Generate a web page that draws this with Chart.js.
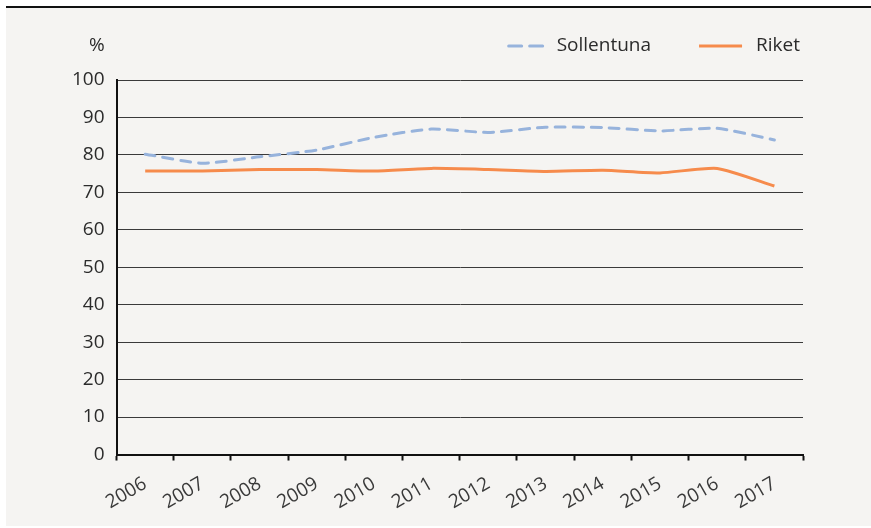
<!DOCTYPE html>
<html>
<head>
<meta charset="utf-8">
<script src="https://cdn.jsdelivr.net/npm/chart.js@4"></script>
<style>
  html, body { margin: 0; padding: 0; background: #ffffff; }
  #box {
    position: absolute; left: 6px; top: 6px; width: 865px; height: 518px;
    border-top: 2px solid #111; background: #f5f4f2;
  }
  #box canvas { display: block; }
</style>
</head>
<body>
<div id="box"><canvas id="chart" width="865" height="518"></canvas></div>
<script>
// years on the x axis
var years = ["2006", "2007", "2008", "2009", "2010", "2011", "2012", "2013", "2014", "2015", "2016", "2017"];
// share in %
var sollentuna = [80.2, 77.8, 79.5, 81.3, 84.7, 86.9, 86.0, 87.4, 87.3, 86.4, 87.1, 84.0];
var riket = [75.7, 75.7, 76.1, 76.1, 75.7, 76.4, 76.1, 75.6, 75.9, 75.2, 76.4, 71.7];
var yTicks = [0, 10, 20, 30, 40, 50, 60, 70, 80, 90, 100];
var unitLabel = "%";

var font = "'Open Sans', sans-serif";
var fontSize = 19;
var textColor = "#2b2b2b";

// "%" above the y labels and the legend on the right, same row
var topRowPlugin = {
  id: "topRow",
  afterDraw: function (chart) {
    var ctx = chart.ctx;
    var area = chart.chartArea;
    var y = chart.scales.y;
    var rowY = area.top - 34;
    ctx.save();
    ctx.font = fontSize + "px " + font;
    ctx.fillStyle = textColor;
    ctx.textBaseline = "middle";
    ctx.textAlign = "right";
    ctx.fillText(unitLabel, y.right - 12, rowY);

    // legend, laid out from the right edge of the plot
    var sets = chart.data.datasets;
    var x = area.right - 3;
    for (var i = sets.length - 1; i >= 0; i--) {
      var ds = sets[i];
      var w = ctx.measureText(ds.label).width;
      ctx.textAlign = "left";
      ctx.fillText(ds.label, x - w, rowY);
      var lineEnd = x - w - 14;
      var lineLen = ds.borderDash ? 34 : 43;
      ctx.beginPath();
      ctx.strokeStyle = ds.borderColor;
      ctx.lineWidth = 3;
      ctx.lineCap = ds.borderDash ? "round" : "butt";
      ctx.setLineDash(ds.borderDash ? [13, 8] : []);
      ctx.moveTo(lineEnd - lineLen, rowY);
      ctx.lineTo(lineEnd, rowY);
      ctx.stroke();
      x = lineEnd - lineLen - 48;
    }
    ctx.restore();
  }
};

var ctx = document.getElementById("chart").getContext("2d");
var chart = new Chart(ctx, {
  type: "line",
  data: {
    labels: years,
    datasets: [
      {
        label: "Sollentuna",
        data: sollentuna,
        borderColor: "#97b3dc",
        backgroundColor: "#97b3dc",
        borderWidth: 3,
        borderDash: [10, 8],
        borderCapStyle: "round",
        pointRadius: 0,
        tension: 0.2,
      },
      {
        label: "Riket",
        data: riket,
        borderColor: "#f68b4c",
        backgroundColor: "#f68b4c",
        borderWidth: 3,
        pointRadius: 0,
        tension: 0.2,
      },
    ],
  },
  options: {
    responsive: false,
    animation: false,
    layout: { padding: { left: 54, right: 68, top: 72, bottom: 0 } },
    plugins: {
      tooltip: { enabled: false },
      legend: { display: false },
    },
    scales: {
      x: {
        offset: true,
        grid: {
          offset: true,
          drawOnChartArea: false,
          drawTicks: true,
          tickLength: 6,
          tickColor: "#111",
          tickWidth: 2,
        },
        border: { color: "#111", width: 2 },
        ticks: {
          minRotation: 30,
          maxRotation: 30,
          color: "#3a3a3a",
          padding: 12,
          font: { family: font, size: fontSize },
        },
      },
      y: {
        min: 0,
        max: 100,
        afterBuildTicks: function (axis) {
          axis.ticks = yTicks.map(function (v) { return { value: v }; });
        },
        grid: { color: "#3a3a3a", lineWidth: 1, drawTicks: false },
        border: { color: "#111", width: 2 },
        ticks: {
          color: textColor,
          padding: 12,
          font: { family: font, size: fontSize },
        },
      },
    },
  },
  plugins: [topRowPlugin],
});
</script>
</body>
</html>
